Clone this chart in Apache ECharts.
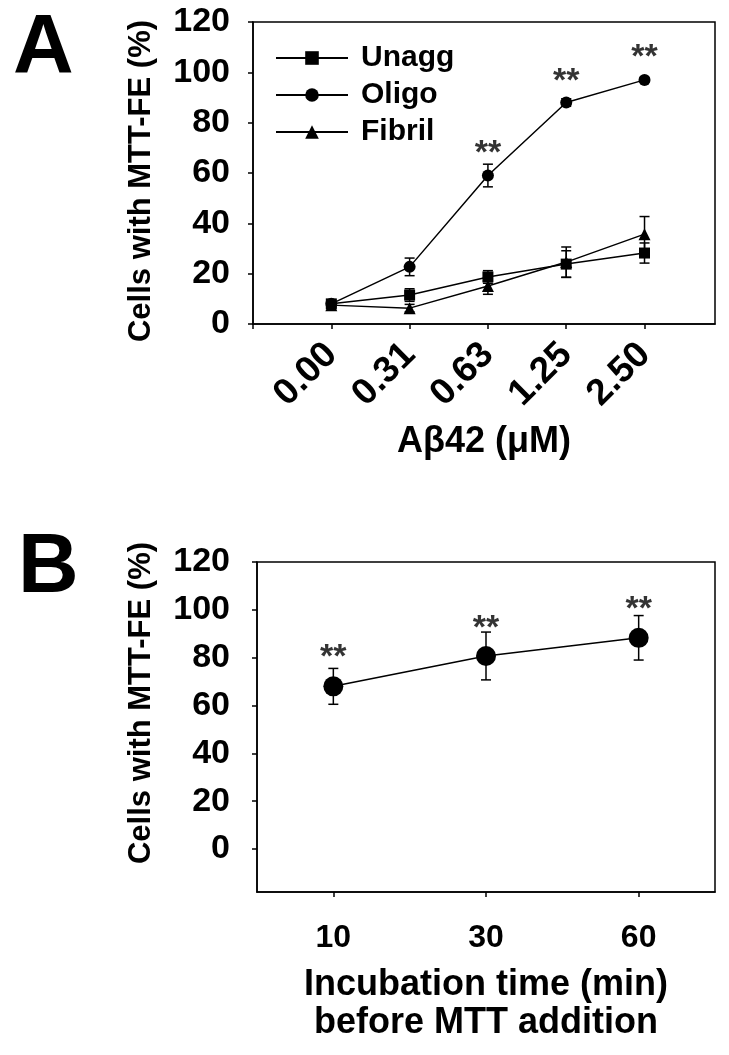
<!DOCTYPE html>
<html>
<head>
<meta charset="utf-8">
<script src="https://cdn.jsdelivr.net/npm/echarts@6/dist/echarts.min.js"></script>
<style>
html,body{margin:0;padding:0;background:#fff;}
#c{width:729px;height:1055px;}
</style>
</head>
<body>
<div id="c"></div>
<script>
// ---- Panel A data ----
const concLabels = ['0.00', '0.31', '0.63', '1.25', '2.50'];
const unaggMean = [8, 11.5, 18.7, 23.8, 28.2];
const unaggErr  = [1.5, 2.5, 2.5, 5.3, 4];
const oligoMean = [8, 22.7, 59, 88, 97];
const oligoErr  = [1, 3.5, 4.5, 1.5, 1];
const fibrilMean = [7.5, 6.3, 15.1, 24.6, 35.7];
const fibrilErr  = [1, 1.5, 3.3, 6, 7];
const starsA_x = [2, 3, 4];
const starsA_y = [70.7, 99.3, 108.9];
const yTicksA = [0, 20, 40, 60, 80, 100, 120];

// ---- Panel B data ----
const timeLabels = ['10', '30', '60'];
const timeMean = [68, 80.7, 88.3];
const timeErr  = [7.5, 10, 9.3];
const starsB_y = [83.5, 95.5, 103.3];
const yTicksB = [0, 20, 40, 60, 80, 100, 120];

const FONT = '"Liberation Sans", Arial, Helvetica, sans-serif';
const BLACK = '#000';

function pts(means) { return means.map((v, i) => [i, v]); }
function errData(means, errs) { return means.map((v, i) => [i, v, errs[i]]); }

function errorBarSeries(data, xi, yi, capHalf) {
  return {
    type: 'custom',
    xAxisIndex: xi, yAxisIndex: yi,
    silent: true, z: 1,
    data: data,
    encode: { x: 0, y: 1 },
    renderItem: function (params, api) {
      const x = api.value(0), m = api.value(1), e = api.value(2);
      const top = api.coord([x, m + e]);
      const bot = api.coord([x, m - e]);
      const st = { stroke: BLACK, lineWidth: 1.5 };
      return {
        type: 'group',
        children: [
          { type: 'line', shape: { x1: top[0], y1: top[1], x2: bot[0], y2: bot[1] }, style: st },
          { type: 'line', shape: { x1: top[0] - capHalf, y1: top[1], x2: top[0] + capHalf, y2: top[1] }, style: st },
          { type: 'line', shape: { x1: bot[0] - capHalf, y1: bot[1], x2: bot[0] + capHalf, y2: bot[1] }, style: st }
        ]
      };
    }
  };
}

function lineSeries(name, means, symbol, size, xi, yi) {
  return {
    name: name, type: 'line', xAxisIndex: xi, yAxisIndex: yi,
    data: pts(means), symbol: symbol, symbolSize: size, showSymbol: true,
    itemStyle: { color: BLACK, borderWidth: 0 },
    lineStyle: { color: BLACK, width: 1.5 },
    z: 3, animation: false
  };
}

function starSeries(xs, ys, xi, yi) {
  return {
    type: 'scatter', xAxisIndex: xi, yAxisIndex: yi, silent: true,
    data: xs.map((x, i) => [x, ys[i]]),
    symbolSize: 1, itemStyle: { color: 'rgba(0,0,0,0)' },
    label: { show: true, position: 'inside', formatter: '**', color: BLACK,
             fontFamily: FONT, fontSize: 34, fontWeight: 'bold', offset: [0, 8] },
    z: 4
  };
}

const chart = echarts.init(document.getElementById('c'), null, { renderer: 'canvas' });

const option = {
  animation: false,
  backgroundColor: '#fff',
  grid: [
    { left: 253, top: 22, width: 462, height: 302, show: true, borderColor: BLACK, borderWidth: 1.5, backgroundColor: 'transparent' },
    { left: 257, top: 562, width: 458, height: 330, show: true, borderColor: BLACK, borderWidth: 1.5, backgroundColor: 'transparent' }
  ],
  legend: {
    data: ['Unagg', 'Oligo', 'Fibril'],
    orient: 'vertical', left: 270, top: 38,
    itemWidth: 72, itemHeight: 17, itemGap: 7,
    textStyle: { fontFamily: FONT, fontSize: 30, fontWeight: 'bold', color: BLACK, padding: [0, 0, 0, 8] },
    selectedMode: false
  },
  xAxis: [
    {
      gridIndex: 0, type: 'value', min: -1, max: 4.9,
      axisLine: { onZero: false, lineStyle: { color: BLACK, width: 1.5 } },
      axisTick: { show: true, length: 5, lineStyle: { color: BLACK, width: 1.5 }, customValues: [-1, 0, 1, 2, 3, 4] },
      axisLabel: {
        customValues: [0, 1, 2, 3, 4],
        formatter: v => concLabels[Math.round(v)] || '',
        rotate: 45, margin: 25, color: BLACK, fontFamily: FONT, fontSize: 37, fontWeight: 'bold'
      },
      splitLine: { show: false },
      name: 'A\u03b242 (\u03bcM)', nameLocation: 'middle', nameGap: 100,
      nameTextStyle: { fontFamily: FONT, fontSize: 36, fontWeight: 'bold', color: BLACK }
    },
    {
      gridIndex: 1, type: 'category', data: timeLabels, boundaryGap: true,
      axisLine: { onZero: false, lineStyle: { color: BLACK, width: 1.5 } },
      axisTick: { show: true, alignWithLabel: true, length: 5, lineStyle: { color: BLACK, width: 1.5 } },
      axisLabel: { margin: 30, color: BLACK, fontFamily: FONT, fontSize: 32, fontWeight: 'bold' },
      splitLine: { show: false },
      name: 'Incubation time (min)\nbefore MTT addition', nameLocation: 'middle', nameGap: 74,
      nameTextStyle: { fontFamily: FONT, fontSize: 36, fontWeight: 'bold', color: BLACK, lineHeight: 38 }
    }
  ],
  yAxis: [
    {
      gridIndex: 0, type: 'value', min: 0, max: 120, interval: 20,
      axisLine: { show: true, onZero: false, lineStyle: { color: BLACK, width: 1.5 } },
      axisTick: { show: true, length: 5, lineStyle: { color: BLACK, width: 1.5 } },
      axisLabel: { margin: 23, color: BLACK, fontFamily: FONT, fontSize: 34, fontWeight: 'bold',
                   customValues: yTicksA },
      splitLine: { show: false }
    },
    {
      gridIndex: 1, type: 'value', min: -18, max: 120,
      axisLine: { show: true, onZero: false, lineStyle: { color: BLACK, width: 1.5 } },
      axisTick: { show: true, length: 5, lineStyle: { color: BLACK, width: 1.5 }, customValues: yTicksB },
      axisLabel: { margin: 27, color: BLACK, fontFamily: FONT, fontSize: 34, fontWeight: 'bold',
                   customValues: yTicksB },
      splitLine: { show: false }
    }
  ],
  graphic: [
    { type: 'text', left: 13, top: 8, style: { text: 'A', fontFamily: FONT, fontSize: 84, fontWeight: 'bold', fill: BLACK } },
    { type: 'text', left: 18, top: 527, style: { text: 'B', fontFamily: FONT, fontSize: 84, fontWeight: 'bold', fill: BLACK } },
    { type: 'text', x: 141, y: 181, rotation: Math.PI / 2,
      style: { text: 'Cells with MTT-FE (%)', fontFamily: FONT, fontSize: 31, fontWeight: 'bold', fill: BLACK,
               textAlign: 'center', textVerticalAlign: 'middle' } },
    { type: 'text', x: 141, y: 703, rotation: Math.PI / 2,
      style: { text: 'Cells with MTT-FE (%)', fontFamily: FONT, fontSize: 31, fontWeight: 'bold', fill: BLACK,
               textAlign: 'center', textVerticalAlign: 'middle' } }
  ],
  series: [
    errorBarSeries(errData(unaggMean, unaggErr), 0, 0, 5),
    errorBarSeries(errData(oligoMean, oligoErr), 0, 0, 5),
    errorBarSeries(errData(fibrilMean, fibrilErr), 0, 0, 5),
    lineSeries('Unagg', unaggMean, 'rect', 11, 0, 0),
    lineSeries('Oligo', oligoMean, 'circle', 12, 0, 0),
    lineSeries('Fibril', fibrilMean, 'triangle', 12, 0, 0),
    starSeries(starsA_x, starsA_y, 0, 0),
    errorBarSeries(errData(timeMean, timeErr), 1, 1, 5),
    lineSeries('Time', timeMean, 'circle', 20, 1, 1),
    starSeries([0, 1, 2], starsB_y, 1, 1)
  ]
};
chart.setOption(option);
</script>
</body>
</html>
